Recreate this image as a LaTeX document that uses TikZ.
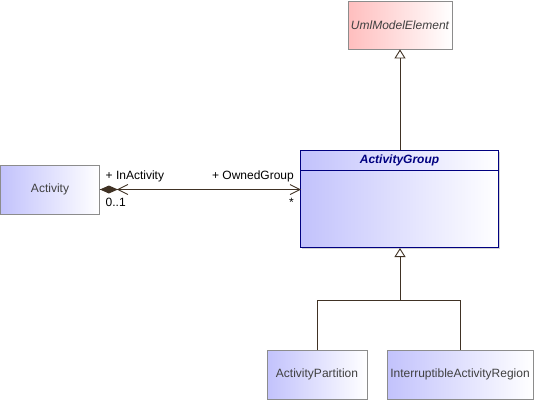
\documentclass[tikz,border=0pt]{standalone}
\usepackage{fontspec}
\setmainfont{Liberation Sans}
\usetikzlibrary{arrows.meta,shadows,calc}
\definecolor{blueL}{RGB}{194,194,252}
\definecolor{pinkL}{RGB}{255,190,190}
\definecolor{boxgray}{RGB}{140,140,140}
\definecolor{navy}{RGB}{0,0,128}
\definecolor{txtgray}{RGB}{64,64,64}
\definecolor{linebrown}{RGB}{64,50,36}
\tikzset{
  cls/.style={draw=boxgray, line width=0.8pt, left color=blueL, right color=white,
    text=txtgray, inner sep=0pt, font=\fontsize{12}{14}\selectfont},
  umlbox/.style={cls, left color=pinkL, right color=white, font=\fontsize{12}{14}\selectfont\itshape},
  grpbox/.style={cls, draw=navy, line width=1pt, drop shadow={shadow xshift=1.2pt, shadow yshift=-1.2pt, opacity=0.35}},
  lbl/.style={inner sep=0pt, text=black, font=\fontsize{12}{14}\selectfont},
  conn/.style={draw=linebrown, line width=0.9pt},
  gen/.style={conn, -{Triangle[open, length=9pt, width=11pt, line width=0.9pt]}},
}
\begin{document}
\begin{tikzpicture}[x=1pt,y=-1pt]
\useasboundingbox (0,0) rectangle (534,400);
\node[umlbox, minimum width=104pt, minimum height=48pt] (uml) at (400,25) {UmlModelElement};
\node[cls, minimum width=99pt, minimum height=49pt] (act) at (50,189.5) {Activity};
\node[grpbox, minimum width=198pt, minimum height=97pt] (grp) at (399.5,199) {};
\draw[navy, line width=0.9pt] ($(grp.north west)+(0,20)$) -- ($(grp.north east)+(0,20)$);
\node[lbl, text=navy, font=\fontsize{12}{14}\selectfont\bfseries\itshape] (grptitle) at ($(grp.north)+(0,10)$) {ActivityGroup};
\node[cls, minimum width=100pt, minimum height=49pt] (part) at (317,374.5) {ActivityPartition};
\node[cls, minimum width=146pt, minimum height=49pt] (reg) at (460,374.5) {InterruptibleActivityRegion};

% generalization to UmlModelElement
\draw[gen] (grp.north -| uml.south) -- (uml.south);
% generalization tree
\coordinate (j) at (400,300);
\draw[conn] (part.north) |- (j);
\draw[conn] (reg.north) |- (j);
\draw[gen] (j) -- (j |- grp.south);

% association
\coordinate (ae) at (act.east -| grp.west);
\draw[conn] (act.east) -- (ae);
\fill[linebrown] (act.east) -- ++(9,-4) -- ++(9,4) -- ++(-9,4) -- cycle;
\draw[conn] ($(act.east)+(28,-5)$) -- ($(act.east)+(18,0)$) -- ($(act.east)+(28,5)$);
\draw[conn] ($(ae)+(-10,-5)$) -- (ae) -- ($(ae)+(-10,5)$);

\node[lbl, anchor=base west] (l1) at (105.5,179) {+ InActivity};
\node[lbl, anchor=base west] (l2) at (105.5,206) {0..1};
\node[lbl, anchor=base east] (l3) at (294,179) {+ OwnedGroup};
\node[lbl, anchor=base east] (l4) at (294,206) {*};
\end{tikzpicture}
\end{document}
